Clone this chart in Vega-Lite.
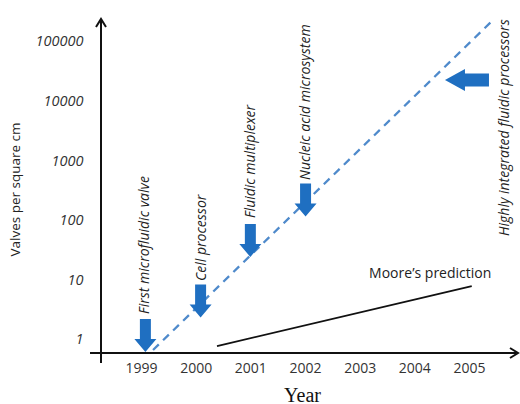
{
  "$schema": "https://vega.github.io/schema/vega-lite/v6.json",
  "width": 417,
  "height": 334,
  "autosize": {"type": "none"},
  "padding": {"left": 101, "top": 19, "right": 2, "bottom": 51},
  "background": "white",
  "config": {"view": {"stroke": null}},
  "resolve": {"scale": {"shape": "independent"}},
  "datasets": {
    "axisLines": [
      {"year": 1998.067, "year2": 2005.87, "value": 0.605, "value2": 0.605},
      {"year": 1998.268, "year2": 1998.268, "value": 0.41, "value2": 240000}
    ],
    "axisHeads": [
      {"year": 2005.896, "value": 0.605, "dir": "right"},
      {"year": 1998.268, "value": 243000, "dir": "up"}
    ],
    "trend": [
      {"year": 1999.22, "value": 0.68},
      {"year": 2005.44, "value": 234000}
    ],
    "moore": [
      {"year": 2000.39, "value": 0.79},
      {"year": 2005.05, "value": 8.05}
    ],
    "milestoneArrows": [
      {"year": 1999.08, "value": 0.63, "dir": "down"},
      {"year": 2000.09, "value": 2.39, "dir": "down"},
      {"year": 2001.0, "value": 24.7, "dir": "down"},
      {"year": 2002.01, "value": 118, "dir": "down"},
      {"year": 2004.56, "value": 23000, "dir": "left"}
    ],
    "milestoneLabels": [
      {"year": 1999.08, "value": 2.73, "label": "First microfluidic valve"},
      {"year": 2000.11, "value": 9.8, "label": "Cell processor"},
      {"year": 2001.02, "value": 111, "label": "Fluidic multiplexer"},
      {"year": 2002.01, "value": 484, "label": "Nucleic acid microsystem"},
      {"year": 2005.66, "value": 55.6, "label": "Highly integrated fluidic processors"}
    ],
    "mooreLabel": [
      {"year": 2004.29, "value": 12.8, "label": "Moore’s prediction"}
    ]
  },
  "layer": [
    {
      "data": {"name": "axisLines"},
      "mark": {"type": "rule", "stroke": "#111", "strokeWidth": 2},
      "encoding": {
        "x": {
          "field": "year",
          "type": "quantitative",
          "scale": {"domain": [1998.268, 2005.896], "nice": false, "zero": false},
          "axis": {
            "values": [1999, 2000, 2001, 2002, 2003, 2004, 2005],
            "format": "d",
            "domain": false,
            "ticks": false,
            "tickSize": 0,
            "grid": false,
            "labelFont": "Open Sans",
            "labelFontSize": 14,
            "labelColor": "#333",
            "labelPadding": 8,
            "labelOverlap": false,
            "labelFlush": false,
            "title": "Year",
            "titleFont": "Liberation Serif",
            "titleFontSize": 20,
            "titleFontWeight": "normal",
            "titleColor": "#111",
            "titleX": 201,
            "titleY": 48,
            "titleAlign": "center",
            "titleBaseline": "alphabetic"
          }
        },
        "x2": {"field": "year2"},
        "y": {
          "field": "value",
          "type": "quantitative",
          "scale": {"type": "log", "domain": [0.605, 243000], "nice": false},
          "axis": {
            "values": [1, 10, 100, 1000, 10000, 100000],
            "format": "d",
            "domain": false,
            "ticks": false,
            "tickSize": 0,
            "grid": false,
            "labelFont": "Open Sans",
            "labelFontStyle": "italic",
            "labelFontSize": 14.5,
            "labelColor": "#333",
            "labelPadding": 18,
            "labelOverlap": false,
            "labelFlush": false,
            "title": "Valves per square cm",
            "titleFont": "Open Sans",
            "titleFontSize": 13.5,
            "titleFontWeight": "normal",
            "titleColor": "#222",
            "titleAngle": -90,
            "titleX": -86,
            "titleY": 170,
            "titleAlign": "center",
            "titleBaseline": "middle"
          }
        },
        "y2": {"field": "value2"}
      }
    },
    {
      "data": {"name": "axisHeads"},
      "mark": {"type": "point", "filled": false, "stroke": "#111", "strokeWidth": 2, "opacity": 1, "size": 100},
      "encoding": {
        "x": {"field": "year", "type": "quantitative"},
        "y": {"field": "value", "type": "quantitative"},
        "shape": {
          "field": "dir",
          "type": "nominal",
          "scale": {"domain": ["up", "right"], "range": ["M-1,1.6L0,0L1,1.6", "M-1.6,-1L0,0L-1.6,1"]},
          "legend": null
        }
      }
    },
    {
      "data": {"name": "trend"},
      "mark": {"type": "line", "stroke": "#4f8acb", "strokeWidth": 2.3, "strokeDash": [8, 6]},
      "encoding": {
        "x": {"field": "year", "type": "quantitative"},
        "y": {"field": "value", "type": "quantitative"}
      }
    },
    {
      "data": {"name": "moore"},
      "mark": {"type": "line", "stroke": "#111", "strokeWidth": 1.8},
      "encoding": {
        "x": {"field": "year", "type": "quantitative"},
        "y": {"field": "value", "type": "quantitative"}
      }
    },
    {
      "data": {"name": "milestoneArrows"},
      "mark": {"type": "point", "filled": true, "fill": "#1f6fc1", "strokeWidth": 0, "opacity": 1, "size": 1089},
      "encoding": {
        "x": {"field": "year", "type": "quantitative"},
        "y": {"field": "value", "type": "quantitative"},
        "shape": {
          "field": "dir",
          "type": "nominal",
          "scale": {
            "domain": ["down", "left"],
            "range": [
              "M-0.333,-2L0.333,-2L0.333,-0.788L0.667,-0.788L0,0L-0.667,-0.788L-0.333,-0.788Z",
              "M0,0L1.212,-0.667L1.212,-0.394L2.667,-0.394L2.667,0.394L1.212,0.394L1.212,0.667Z"
            ]
          },
          "legend": null
        }
      }
    },
    {
      "data": {"name": "milestoneLabels"},
      "mark": {"type": "text", "angle": 270, "align": "left", "baseline": "middle", "font": "Open Sans", "fontStyle": "italic", "fontSize": 14, "fill": "#222"},
      "encoding": {
        "x": {"field": "year", "type": "quantitative"},
        "y": {"field": "value", "type": "quantitative"},
        "text": {"field": "label"}
      }
    },
    {
      "data": {"name": "mooreLabel"},
      "mark": {"type": "text", "align": "center", "baseline": "middle", "font": "Open Sans", "fontSize": 14, "fill": "#222"},
      "encoding": {
        "x": {"field": "year", "type": "quantitative"},
        "y": {"field": "value", "type": "quantitative"},
        "text": {"field": "label"}
      }
    }
  ]
}
